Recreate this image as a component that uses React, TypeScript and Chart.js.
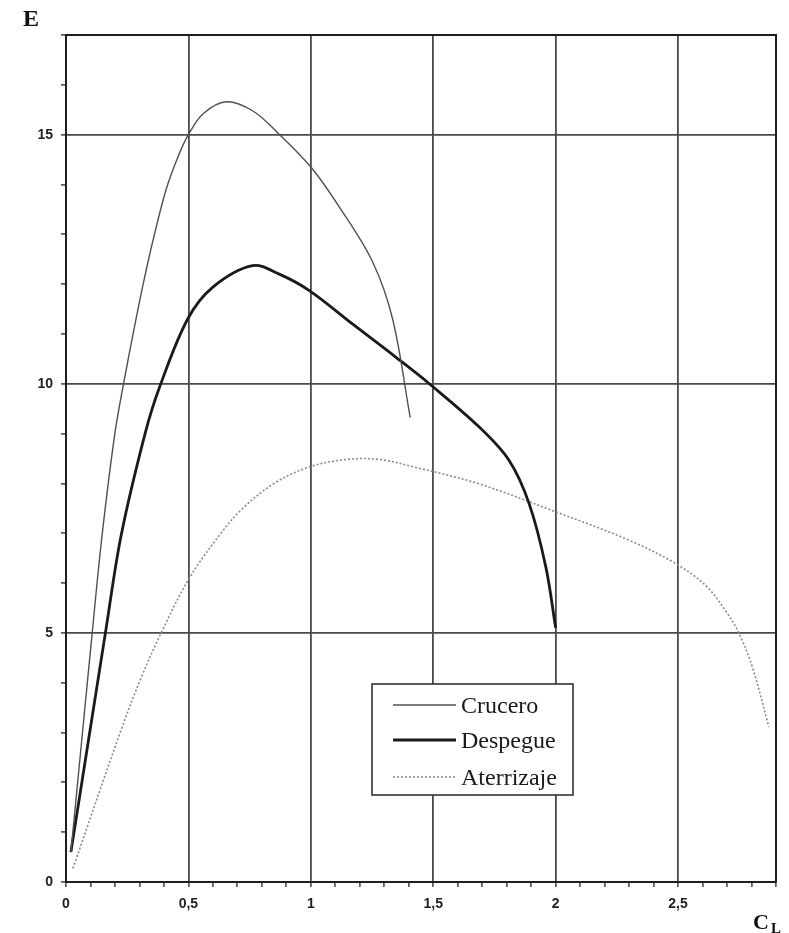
import React, { useEffect, useRef } from "react";
import { Chart, registerables } from "chart.js";

Chart.register(...registerables);

// Lift-to-drag ratio E versus lift coefficient C_L for three configurations
const cruceroCL = [0.02, 0.107, 0.146, 0.198, 0.235, 0.28, 0.313, 0.354, 0.409, 0.463, 0.5, 0.56, 0.654, 0.762, 0.864, 1.0, 1.116, 1.252, 1.334, 1.406];
const cruceroE = [0.6, 5.0, 6.9, 8.95, 10.0, 11.15, 11.95, 12.85, 13.9, 14.62, 15.0, 15.42, 15.66, 15.48, 15.04, 14.35, 13.55, 12.45, 11.3, 9.32];

const despegueCL = [0.02, 0.161, 0.225, 0.323, 0.382, 0.497, 0.6, 0.762, 0.871, 0.994, 1.17, 1.348, 1.484, 1.688, 1.81, 1.892, 1.96, 2.0];
const despegueE = [0.6, 5.0, 6.95, 9.0, 9.93, 11.3, 11.94, 12.37, 12.2, 11.87, 11.2, 10.53, 10.0, 9.13, 8.46, 7.59, 6.32, 5.1];

const aterrizajeCL = [0.028, 0.225, 0.307, 0.389, 0.504, 0.633, 0.722, 0.85, 0.994, 1.144, 1.28, 1.43, 1.688, 2.0, 2.3, 2.49, 2.613, 2.7, 2.749, 2.803, 2.871];
const aterrizajeE = [0.27, 3.05, 4.1, 5.0, 6.1, 7.0, 7.5, 8.0, 8.33, 8.48, 8.48, 8.32, 7.99, 7.43, 6.86, 6.39, 5.95, 5.4, 4.99, 4.32, 3.11];

const seriesNames = ["Crucero", "Despegue", "Aterrizaje"];
const xTickLabels = ["0", "0,5", "1", "1,5", "2", "2,5"];
const yTickLabels = ["0", "5", "10", "15"];

const X_MIN = 0;
const X_MAX = 2.9;
const Y_MIN = 0;
const Y_MAX = 17;

const toPoints = (xs: number[], ys: number[]) => xs.map((x, i) => ({ x, y: ys[i] }));

const isMultiple = (v: number, step: number) => Math.abs(v / step - Math.round(v / step)) < 1e-6;

const GRID = "#4a4a4a";
const AXIS = "#1e1e1e";

const framePlugin = {
  id: "frameAndLabels",
  afterDraw(chart: any) {
    const { ctx, chartArea } = chart;
    const { left, right, top, bottom } = chartArea;
    ctx.save();

    // top and right edges of the plotting frame
    ctx.strokeStyle = AXIS;
    ctx.lineWidth = 2;
    ctx.beginPath();
    ctx.moveTo(left, top);
    ctx.lineTo(right, top);
    ctx.lineTo(right, bottom);
    ctx.stroke();

    // axis titles
    ctx.fillStyle = "#111";
    ctx.textAlign = "left";
    ctx.textBaseline = "alphabetic";
    ctx.font = "bold 24px 'Liberation Serif'";
    ctx.fillText("E", 23, 26);
    ctx.font = "bold 22px 'Liberation Serif'";
    ctx.fillText("C", 753, 929);
    ctx.font = "bold 15px 'Liberation Serif'";
    ctx.fillText("L", 771, 933);

    // legend box
    const bx = 372;
    const by = 684;
    const bw = 201;
    const bh = 111;
    ctx.fillStyle = "#ffffff";
    ctx.fillRect(bx, by, bw, bh);
    ctx.strokeStyle = "#333";
    ctx.lineWidth = 1.6;
    ctx.strokeRect(bx, by, bw, bh);

    const rows = [705, 740, 777];
    chart.data.datasets.forEach((ds: any, i: number) => {
      const y = rows[i];
      ctx.strokeStyle = ds.borderColor;
      ctx.lineWidth = ds.borderWidth;
      ctx.setLineDash(ds.borderDash || []);
      ctx.beginPath();
      ctx.moveTo(393, y);
      ctx.lineTo(456, y);
      ctx.stroke();
      ctx.setLineDash([]);
      ctx.fillStyle = "#1a1a1a";
      ctx.font = "24px 'Liberation Serif'";
      ctx.textBaseline = "alphabetic";
      ctx.fillText(ds.label, 461, y + 8);
    });

    ctx.restore();
  },
};

export default function App() {
  const canvasRef = useRef<HTMLCanvasElement | null>(null);

  useEffect(() => {
    const canvas = canvasRef.current;
    if (!canvas) return;

    const chart = new Chart(canvas, {
      type: "line",
      data: {
        datasets: [
          {
            label: seriesNames[0],
            data: toPoints(cruceroCL, cruceroE),
            borderColor: "#505050",
            borderWidth: 1.4,
            pointRadius: 0,
            fill: false,
            tension: 0.35,
          },
          {
            label: seriesNames[1],
            data: toPoints(despegueCL, despegueE),
            borderColor: "#1a1a1a",
            borderWidth: 2.8,
            pointRadius: 0,
            fill: false,
            tension: 0.35,
          },
          {
            label: seriesNames[2],
            data: toPoints(aterrizajeCL, aterrizajeE),
            borderColor: "#8a8a8a",
            borderWidth: 1.6,
            borderDash: [2, 2],
            pointRadius: 0,
            fill: false,
            tension: 0.35,
          },
        ],
      },
      options: {
        responsive: false,
        animation: false,
        layout: { padding: { top: 35, right: 13, left: 0, bottom: 0 } },
        plugins: {
          legend: { display: false },
          tooltip: { enabled: false },
        },
        scales: {
          x: {
            type: "linear",
            min: X_MIN,
            max: X_MAX,
            afterFit: (scale: any) => {
              scale.height = 51;
            },
            ticks: {
              stepSize: 0.1,
              autoSkip: false,
              maxRotation: 0,
              padding: 9,
              color: "#222",
              font: { family: "'Liberation Sans'", weight: "bold", size: 14 },
              callback: (value: any) => {
                const v = Number(value);
                if (!isMultiple(v, 0.5)) return "";
                const i = Math.round(v / 0.5);
                return xTickLabels[i] ?? "";
              },
            },
            grid: {
              color: (ctx: any) => {
                const v = ctx.tick ? ctx.tick.value : 0;
                return isMultiple(v, 0.5) && v > X_MIN + 1e-6 && v < X_MAX - 1e-6 ? GRID : "rgba(0,0,0,0)";
              },
              lineWidth: 1.8,
              tickColor: "#333",
              tickLength: 5,
              tickWidth: 1.4,
            },
            border: { display: true, color: AXIS, width: 2 },
          },
          y: {
            type: "linear",
            min: Y_MIN,
            max: Y_MAX,
            afterFit: (scale: any) => {
              scale.width = 66;
            },
            ticks: {
              stepSize: 1,
              autoSkip: false,
              padding: 8,
              color: "#222",
              font: { family: "'Liberation Sans'", weight: "bold", size: 14 },
              callback: (value: any) => {
                const v = Number(value);
                if (!isMultiple(v, 5)) return "";
                return yTickLabels[Math.round(v / 5)] ?? "";
              },
            },
            grid: {
              color: (ctx: any) => {
                const v = ctx.tick ? ctx.tick.value : 0;
                return isMultiple(v, 5) && v > Y_MIN + 1e-6 && v < Y_MAX - 1e-6 ? GRID : "rgba(0,0,0,0)";
              },
              lineWidth: 1.8,
              tickColor: "#333",
              tickLength: 5,
              tickWidth: 1.4,
            },
            border: { display: true, color: AXIS, width: 2 },
          },
        },
      },
      plugins: [framePlugin],
    });

    return () => {
      chart.destroy();
    };
  }, []);

  return (
    <div style={{ position: "absolute", left: 0, top: 0, width: 789, height: 933, background: "#fff" }}>
      <canvas ref={canvasRef} width={789} height={933} />
    </div>
  );
}
